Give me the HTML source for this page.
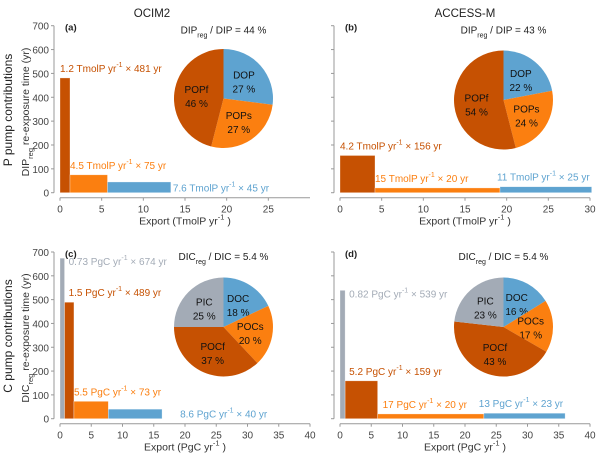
<!DOCTYPE html>
<html><head><meta charset="utf-8">
<style>
html,body{margin:0;padding:0;background:#fff;}
svg{display:block;font-family:"Liberation Sans",Arial,sans-serif;}
</style></head>
<body>
<svg id="fig" width="600" height="458" viewBox="0 0 600 458" xmlns="http://www.w3.org/2000/svg">
<text x="152" y="17" font-size="11.5" text-anchor="middle" fill="#222">OCIM2</text>
<text x="465" y="17" font-size="11.5" text-anchor="middle" fill="#222">ACCESS-M</text>
<text transform="translate(12,110) rotate(-90)" font-size="12" text-anchor="middle" fill="#222">P pump contributions</text>
<text transform="translate(29,112) rotate(-90)" font-size="10.5" text-anchor="middle" fill="#333">DIP<tspan font-size="7.5" dy="4">reg</tspan><tspan dy="-4"> re-exposure time (yr)</tspan></text>
<text transform="translate(12,336) rotate(-90)" font-size="12" text-anchor="middle" fill="#222">C pump contributions</text>
<text transform="translate(29,338) rotate(-90)" font-size="10.5" text-anchor="middle" fill="#333">DIC<tspan font-size="7.5" dy="4">reg</tspan><tspan dy="-4"> re-exposure time (yr)</tspan></text>
</svg>
<script>
const COL = {f:'#c65102', s:'#fb7f10', d:'#5ea3d0', i:'#a3abb6'};
// panel a
const aWidths = [1.2, 4.5, 7.6];
const aHeights = [481, 75, 45];
const aKeys = ['f','s','d'];
const aLabels = ['1.2 TmolP yr', '4.5 TmolP yr', '7.6 TmolP yr'];
const aTimes = ['481 yr','75 yr','45 yr'];
const aPie = [27, 27, 46];
const aPieNames = ['DOP','POPs','POPf'];
// panel b
const bWidths = [4.2, 15, 11];
const bHeights = [156, 20, 25];
const bLabels = ['4.2 TmolP yr', '15 TmolP yr', '11 TmolP yr'];
const bTimes = ['156 yr','20 yr','25 yr'];
const bPie = [22, 24, 54];
// panel c
const cWidths = [0.73, 1.5, 5.5, 8.6];
const cHeights = [674, 489, 73, 40];
const cKeys = ['i','f','s','d'];
const cLabels = ['0.73 PgC yr','1.5 PgC yr','5.5 PgC yr','8.6 PgC yr'];
const cTimes = ['674 yr','489 yr','73 yr','40 yr'];
const cPie = [18, 20, 37, 25];
const cPieNames = ['DOC','POCs','POCf','PIC'];
// panel d
const dWidths = [0.82, 5.2, 17, 13];
const dHeights = [539, 159, 20, 23];
const dLabels = ['0.82 PgC yr','5.2 PgC yr','17 PgC yr','13 PgC yr'];
const dTimes = ['539 yr','159 yr','20 yr','23 yr'];
const dPie = [16, 17, 43, 23];
const yTicks = [0,100,200,300,400,500,600,700];
const pXTicks = [0,5,10,15,20,25,30];
const cXTicks = [0,5,10,15,20,25,30,35,40];

const svg = document.getElementById('fig');
const NS = 'http://www.w3.org/2000/svg';
function mk(tag, attrs, parent){const e=document.createElementNS(NS,tag);for(const k in attrs)e.setAttribute(k,attrs[k]);(parent||svg).appendChild(e);return e;}

function panel(o){
  const g = mk('g',{});
  
  
  const xs = v => o.x0 + v*250/o.xmax;
  const ys = v => o.y0 - v*(o.y0-o.y700)/700;
  const ax = mk('line',{x1:o.x0-6,y1:ys(0),x2:o.x0-6,y2:ys(700),stroke:'#999','stroke-width':1},g);
  
  
  yTicks.forEach(t=>{
    mk('line',{x1:o.x0-9,x2:o.x0-6,y1:ys(t),y2:ys(t),stroke:'#999'},g);
    if(o.ylab){const tx=mk('text',{x:o.x0-11,y:ys(t)+4,'font-size':10,'text-anchor':'end',fill:'#444'},g);tx.textContent=t;
      
      }
  });
  const xl = o.y0+5;
  const xa = mk('line',{x1:xs(0),x2:xs(o.xmax),y1:xl,y2:xl,stroke:'#999'},g);
  
  
  o.xticks.forEach(t=>{
    mk('line',{x1:xs(t),x2:xs(t),y1:xl,y2:xl+3,stroke:'#999'},g);
    const tx=mk('text',{x:xs(t),y:xl+15,'font-size':10,'text-anchor':'middle',fill:'#444'},g);tx.textContent=t;
    
    
  });
  const at = mk('text',{x:xs(o.xmax/2),y:o.y0+32,'font-size':10.5,'text-anchor':'middle',fill:'#333'},g);
  at.innerHTML = 'Export ('+o.unit+' yr<tspan font-size="7.5" dy="-5">-1</tspan><tspan dy="5"> )</tspan>';
  
  
  const pl = mk('text',{x:o.x0+5,y:o.y700+5,'font-size':9.5,'font-weight':'bold',fill:'#222'},g);
  pl.textContent = o.tag;
  
  
  let cum = 0;
  o.widths.forEach((w,i)=>{
    const x1 = xs(cum), x2 = xs(cum+w), yt = ys(o.heights[i]);
    const r = mk('rect',{x:x1,y:yt,width:x2-x1,height:ys(0)-yt,fill:COL[o.keys[i]],stroke:'rgba(255,255,255,0.5)','stroke-width':0.6},g);
    
    
    const m = o.modes[i];
    let lx, ly, anchor='start';
    if(m==='above'){lx=x1+o.dx[i];ly=yt-6;}
    else if(m==='right-top'){lx=x2+4;ly=yt+7;}
    else if(m==='right-base'){lx=x2+o.dx[i];ly=ys(0)-1;}
    else {lx=x2-2;ly=yt-6;anchor='end';}
    const t = mk('text',{x:lx,y:ly,'font-size':10,fill:COL[o.keys[i]],'text-anchor':anchor},g);
    t.innerHTML = o.labels[i]+'<tspan font-size="7" dy="-5">-1</tspan><tspan dy="5"> × '+o.times[i]+'</tspan>';
    
    
    cum += w;
  });
  const cx=o.pcx, cy=o.pcy, R=49.5;
  let a0 = 0; const tot = o.pie.reduce((s,v)=>s+v,0);
  o.pie.forEach((v,i)=>{
    const a1 = a0 + v/tot*2*Math.PI;
    const p = (a)=>[cx+R*Math.sin(a), cy-R*Math.cos(a)];
    const [sx,sy]=p(a0),[ex,ey]=p(a1);
    const path = mk('path',{d:`M${cx},${cy} L${sx},${sy} A${R},${R} 0 ${a1-a0>Math.PI?1:0} 1 ${ex},${ey} Z`,fill:COL[o.pkeys[i]]},g);
    
    
    const am=(a0+a1)/2, lr=R*0.55;
    const tx=cx+lr*Math.sin(am), ty=cy-lr*Math.cos(am);
    const t=mk('text',{x:tx,y:ty-2,'font-size':10,'text-anchor':'middle',fill:'#111'},g);
    t.innerHTML = o.pnames[i]+'<tspan x="'+tx+'" dy="14">'+v+' %</tspan>';
    
    
    a0=a1;
  });
  const pt = mk('text',{x:cx,y:o.y700+8,'font-size':10,'text-anchor':'middle',fill:'#222'},g);
  pt.innerHTML = o.ptitle;
  
  
}
panel({name:'panel-a',tag:'(a)',x0:60,y0:192.7,y700:25.7,xmax:30,xticks:[0,5,10,15,20,25],ylab:true,unit:'TmolP',
  widths:aWidths,heights:aHeights,keys:aKeys,labels:aLabels,times:aTimes,modes:['above','above','right-base'],dx:[0,0,2],
  pie:aPie,pkeys:['d','s','f'],pnames:aPieNames,pcx:223.5,pcy:98.5,ptitle:'DIP<tspan font-size="7" dy="4">reg</tspan><tspan dy="-4"> / DIP = 44 %</tspan>'});
panel({name:'panel-b',tag:'(b)',x0:340,y0:192.7,y700:25.7,xmax:30,xticks:pXTicks,ylab:false,unit:'TmolP',
  widths:bWidths,heights:bHeights,keys:aKeys,labels:bLabels,times:bTimes,modes:['above','above','above-right'],dx:[0,0,0],
  pie:bPie,pkeys:['d','s','f'],pnames:aPieNames,pcx:503.5,pcy:100,ptitle:'DIP<tspan font-size="7" dy="4">reg</tspan><tspan dy="-4"> / DIP = 43 %</tspan>'});
panel({name:'panel-c',tag:'(c)',x0:60,y0:418.7,y700:252,xmax:40,xticks:cXTicks,ylab:true,unit:'PgC',
  widths:cWidths,heights:cHeights,keys:cKeys,labels:cLabels,times:cTimes,modes:['right-top','above','above','right-base'],dx:[0,4,0,18],
  pie:cPie,pkeys:['d','s','f','i'],pnames:cPieNames,pcx:223.5,pcy:327,ptitle:'DIC<tspan font-size="7" dy="4">reg</tspan><tspan dy="-4"> / DIC = 5.4 %</tspan>'});
panel({name:'panel-d',tag:'(d)',x0:340,y0:418.7,y700:252,xmax:40,xticks:cXTicks,ylab:false,unit:'PgC',
  widths:dWidths,heights:dHeights,keys:cKeys,labels:dLabels,times:dTimes,modes:['right-top','above','above','above-right'],dx:[0,4,5,0],
  pie:dPie,pkeys:['d','s','f','i'],pnames:cPieNames,pcx:503.5,pcy:327,ptitle:'DIC<tspan font-size="7" dy="4">reg</tspan><tspan dy="-4"> / DIC = 5.4 %</tspan>'});
</script>
</body></html>
